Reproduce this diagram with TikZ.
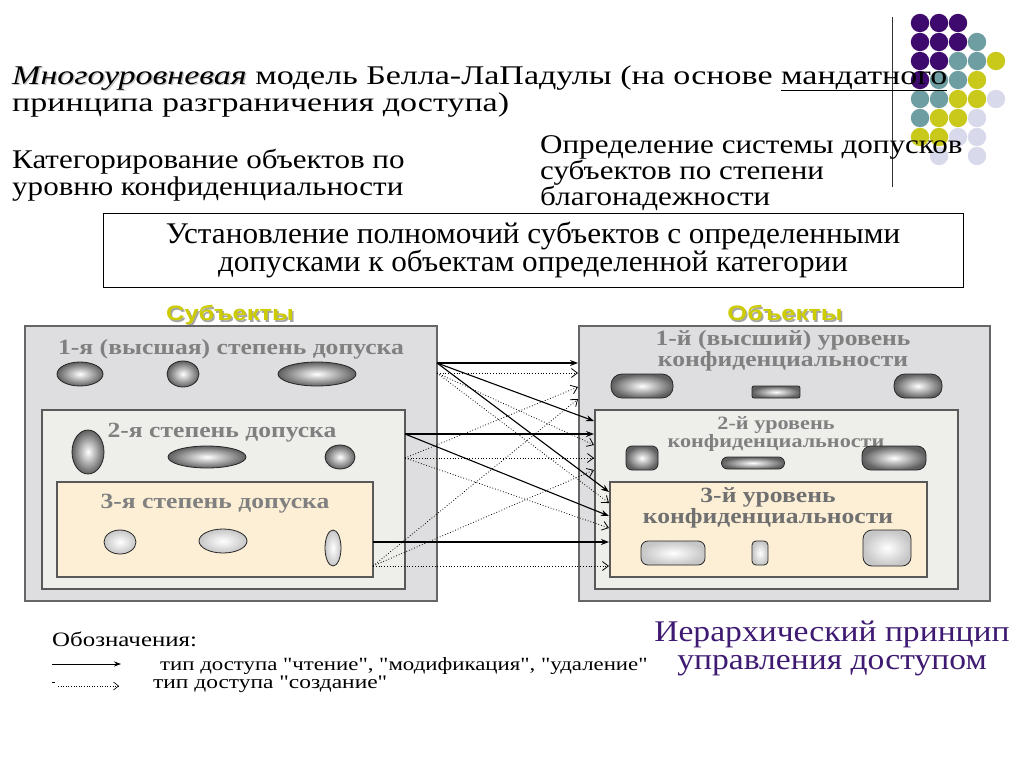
\documentclass[tikz,border=0pt]{standalone}
\usepackage{fontspec}
\setmainfont{Liberation Serif}[FakeStretch=1.22]
\newfontfamily\plainserif{Liberation Serif}[FakeStretch=1.22]
\newfontfamily\fTitle{Liberation Serif}[FakeStretch=1.26]
\newfontfamily\fCat{Liberation Serif}[FakeStretch=1.15]
\newfontfamily\fBox{Liberation Serif}[FakeStretch=1.04]
\newfontfamily\fLvl{Liberation Serif}[FakeStretch=1.18]
\newfontfamily\fHier{Liberation Serif}[FakeStretch=1.12]
\newfontfamily\sansb{Liberation Sans}[FakeStretch=1.22]
\usetikzlibrary{arrows.meta,shadings}
\definecolor{dpurple}{HTML}{3F0A6E}
\definecolor{dteal}{HTML}{6E9EA2}
\definecolor{dyellow}{HTML}{C9C91C}
\definecolor{dlav}{HTML}{D9D9EC}
\definecolor{marble}{HTML}{DEDEE0}
\definecolor{speck}{HTML}{EEEEEB}
\definecolor{cream}{HTML}{FCEFD6}
\definecolor{lbl}{HTML}{808080}
\definecolor{lbld}{HTML}{707070}
\definecolor{ytitle}{HTML}{CCCC00}
\definecolor{hier}{HTML}{3F1A72}
\tikzset{
  outerbox/.style={draw=gray!80!black, line width=1.2pt, fill=marble},
  midbox/.style={draw=gray!70!black, line width=1.2pt, fill=speck},
  innerbox/.style={draw=gray!70!black, line width=1.2pt, fill=cream},
  blob/.style={draw=black!85, line width=0.8pt, inner color=white, outer color=gray!75!black},
  lblob/.style={draw=black!85, line width=0.8pt, inner color=white, outer color=gray!45},
  lvl/.style={font=\fLvl\bfseries\fontsize{21.7}{22}\selectfont, text=lbl, align=center, inner sep=0pt},
  txt/.style={anchor=base west, inner sep=0pt},
  rd/.style={-{Stealth[length=8pt,width=6pt]}, line width=1.1pt, black},
  cr/.style={-{Straight Barb[length=6pt,width=9pt]}, line width=0.8pt, dotted, black},
}
\begin{document}
\begin{tikzpicture}[x=1pt,y=-1pt]
\useasboundingbox (0,0) rectangle (1024,768);
\fill[white] (0,0) rectangle (1024,768);
% decorative dots
\foreach \c/\r/\col in {0/0/dpurple,1/0/dpurple,2/0/dpurple,
  0/1/dpurple,1/1/dpurple,2/1/dpurple,3/1/dteal,
  0/2/dpurple,1/2/dpurple,2/2/dteal,3/2/dteal,4/2/dyellow,
  0/3/dpurple,1/3/dteal,2/3/dteal,3/3/dyellow,
  0/4/dteal,1/4/dteal,2/4/dyellow,3/4/dyellow,4/4/dlav,
  0/5/dteal,1/5/dyellow,2/5/dyellow,3/5/dlav,
  0/6/dyellow,1/6/dyellow,2/6/dlav,3/6/dlav,
  1/7/dlav,3/7/dlav}
  \fill[\col] (920+19*\c,23+19*\r) circle (9.2);
\draw[line width=0.8pt, black!80] (892,17) -- (892,187);
% title
\node[txt, text=gray!45] at (13.5,85.5) {\fTitle\itshape\fontsize{27}{28}\selectfont Многоуровневая};
\node (t1) [txt] at (12,84) {\fTitle\fontsize{27}{28}\selectfont \textit{Многоуровневая} модель Белла-ЛаПадулы (на основе \underline{мандатного}};
\node (t2) [txt] at (12,111) {\fTitle\fontsize{27}{28}\selectfont принципа разграничения доступа)};
\node (c1) [txt] at (12,168) {\fCat\fontsize{27}{28}\selectfont Категорирование объектов по};
\node (c2) [txt] at (12,195) {\fCat\fontsize{27}{28}\selectfont уровню конфиденциальности};
\node (d1) [txt] at (540,153) {\fCat\fontsize{27}{28}\selectfont Определение системы допусков};
\node (d2) [txt] at (540,179) {\fCat\fontsize{27}{28}\selectfont субъектов по степени};
\node (d3) [txt] at (540,205) {\fCat\fontsize{27}{28}\selectfont благонадежности};
% authority box
\draw[line width=0.8pt] (103,213) rectangle (963,287);
\node (u1) [anchor=base, inner sep=0pt] at (533,243) {\fBox\fontsize{30}{30}\selectfont Установление полномочий субъектов с определенными};
\node (u2) [anchor=base, inner sep=0pt] at (533,271) {\fBox\fontsize{30}{30}\selectfont допусками к объектам определенной категории};
% headings
\node[text=gray!70, inner sep=0pt] at (231.5,316.5) {\sansb\bfseries\fontsize{20.9}{22}\selectfont Субъекты};
\node (hs) [text=ytitle, inner sep=0pt] at (230,315) {\sansb\bfseries\fontsize{20.9}{22}\selectfont Субъекты};
\node[text=gray!70, inner sep=0pt] at (786.5,314.5) {\sansb\bfseries\fontsize{20.9}{22}\selectfont Объекты};
\node (ho) [text=ytitle, inner sep=0pt] at (785,313) {\sansb\bfseries\fontsize{20.9}{22}\selectfont Объекты};
% gap line
\draw[line width=0.9pt] (437,326) -- (437,601);
% left boxes
\draw[outerbox] (25,326) rectangle (437,601);
\node[lvl] (ls1) at (231,349) {1-я (высшая) степень допуска};
\shade[blob] (80,374) ellipse (23 and 12);
\shade[blob] (183,374) ellipse (16 and 13);
\shade[blob] (317,374) ellipse (39 and 12);
\draw[midbox] (42,410) rectangle (405,589);
\node[lvl] (ls2) at (222,433) {2-я степень допуска};
\shade[blob] (88,452) ellipse (16 and 22);
\shade[blob] (207,457) ellipse (39 and 11);
\shade[blob] (340,457) ellipse (15 and 12);
\draw[innerbox] (57,482) rectangle (373,577);
\node[lvl] (ls3) at (215,504) {3-я степень допуска};
\shade[lblob] (120,542) ellipse (16 and 12);
\shade[lblob] (223,541) ellipse (24 and 12);
\shade[lblob] (333,548) ellipse (8 and 18);
% right boxes
\draw[outerbox] (579,326) rectangle (990,601);
\node[lvl] (lo1) at (783,351) {1-й (высший) уровень\\[-1pt]конфиденциальности};
\shade[blob, rounded corners=11pt] (611,374) rectangle (673,398);
\shade[blob, rounded corners=2pt] (752,386) rectangle (800,398);
\shade[blob, rounded corners=11pt] (894,374) rectangle (942,398);
\draw[midbox] (595,410) rectangle (958,589);
\node[lvl, font=\fLvl\bfseries\fontsize{18.8}{19}\selectfont] (lo2) at (776,434) {2-й уровень\\[-1pt]конфиденциальности};
\shade[blob, rounded corners=6pt] (626,446) rectangle (658,470);
\shade[blob, rounded corners=6pt] (721.5,457) rectangle (784.5,469);
\shade[blob, rounded corners=9pt] (862,446) rectangle (926,470);
\draw[innerbox] (610,482) rectangle (927,577);
\node[lvl, text=lbld] (lo3) at (768,508) {3-й уровень\\[-1pt]конфиденциальности};
\shade[lblob, rounded corners=7pt] (641,541) rectangle (705,565);
\shade[lblob, rounded corners=4pt] (752,541) rectangle (768,565);
\shade[lblob, rounded corners=9pt] (863,530) rectangle (911,566);
% connector endpoints
\coordinate (s1r) at (437,363); \coordinate (s1c) at (437,373);
\coordinate (s2r) at (405,434); \coordinate (s2c) at (405,458);
\coordinate (s3r) at (373,542); \coordinate (s3c) at (373,566);
\coordinate (o1a) at (578,363); \coordinate (o1b) at (578,373);
\coordinate (o1c) at (578,387); \coordinate (o1d) at (578,399);
\coordinate (o2a) at (594,421); \coordinate (o2b) at (594,434);
\coordinate (o2c) at (594,445); \coordinate (o2d) at (594,458);
\coordinate (o2e) at (594,470);
\coordinate (o3a) at (609,492); \coordinate (o3b) at (609,503);
\coordinate (o3c) at (609,516); \coordinate (o3d) at (609,528);
\coordinate (o3e) at (609,542); \coordinate (o3f) at (609,566);
% read/modify/delete
\draw[rd] (s1r) -- (o1a);
\draw[rd] (s1r) -- (o2a);
\draw[rd] (s1r) -- (o3a);
\draw[rd] (s2r) -- (o2b);
\draw[rd] (s2r) -- (o3c);
\draw[rd] (s3r) -- (o3e);
% create
\draw[cr] (s1c) -- (o1b);
\draw[cr] (s1c) -- (o2c);
\draw[cr] (s1c) -- (o3b);
\draw[cr] (s2c) -- (o1c);
\draw[cr] (s2c) -- (o2d);
\draw[cr] (s2c) -- (o3d);
\draw[cr] (s3c) -- (o1d);
\draw[cr] (s3c) -- (o2e);
\draw[cr] (s3c) -- (o3f);
% hierarchical principle
\node (h1) [anchor=base, text=hier, inner sep=0pt] at (832,641) {\fHier\fontsize{30}{30}\selectfont Иерархический принцип};
\node (h2) [anchor=base, text=hier, inner sep=0pt] at (832,669) {\fHier\fontsize{30}{30}\selectfont управления доступом};
% legend
\node (lg) [txt] at (52,646) {\fontsize{20.4}{22}\selectfont Обозначения:};
\coordinate (la1) at (52,664); \coordinate (la2) at (121,664);
\draw[-{Stealth[length=7pt,width=5pt]}, line width=0.7pt] (la1) -- (la2);
\node (lt1) [txt] at (160,670) {\plainserif\fontsize{18.7}{20}\selectfont тип доступа "чтение", "модификация", "удаление"};
\coordinate (lb0) at (52,682); \coordinate (lb1) at (55,682);
\draw[line width=0.6pt] (lb0) -- (lb1);
\coordinate (lb2) at (58,686); \coordinate (lb3) at (119,686);
\draw[-{Straight Barb[length=5pt,width=8pt]}, dotted, line width=0.6pt] (lb2) -- (lb3);
\node (lt2) [txt] at (153,688) {\plainserif\fontsize{19.2}{20}\selectfont тип доступа "создание"};
\end{tikzpicture}
\end{document}
